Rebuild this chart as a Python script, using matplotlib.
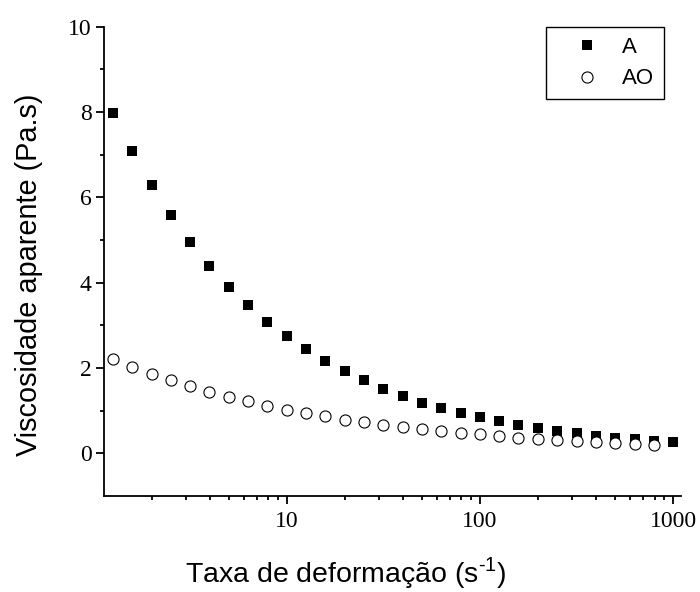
import numpy as np
import matplotlib.pyplot as plt
from matplotlib.ticker import FixedLocator, NullFormatter, FuncFormatter

plt.rcParams['mathtext.fontset'] = 'custom'
plt.rcParams['mathtext.rm'] = 'Liberation Sans'

# taxa de deformação (s-1)
taxa = [1.26, 1.58, 2.0, 2.51, 3.16, 3.98, 5.01, 6.31, 7.94, 10,
        12.6, 15.8, 20, 25.1, 31.6, 39.8, 50.1, 63.1, 79.4, 100,
        126, 158, 200, 251, 316, 398, 501, 631, 794, 1000]

# viscosidade aparente (Pa.s)
visc_A = [7.97, 7.08, 6.28, 5.58, 4.96, 4.40, 3.91, 3.48, 3.08, 2.74,
          2.44, 2.16, 1.92, 1.71, 1.51, 1.35, 1.19, 1.06, 0.94, 0.84,
          0.75, 0.66, 0.59, 0.52, 0.47, 0.41, 0.37, 0.34, 0.30, 0.27]
visc_AO = [2.21, 2.03, 1.87, 1.72, 1.57, 1.44, 1.33, 1.22, 1.12, 1.02,
           0.94, 0.87, 0.79, 0.73, 0.66, 0.62, 0.57, 0.52, 0.48, 0.45,
           0.41, 0.37, 0.34, 0.31, 0.29, 0.27, 0.24, 0.23, 0.20]

fig = plt.figure(figsize=(7, 5.92), dpi=100)
ax = fig.add_axes([0.1486, 0.1622, 0.8243, 0.7927])

ax.plot(taxa, visc_A, 's', color='black', markersize=7.2, markeredgewidth=0, label='A')
ax.plot(taxa[:len(visc_AO)], visc_AO, 'o', markerfacecolor='white', markeredgecolor='black',
        markersize=8, markeredgewidth=0.8, label='AO')

ax.set_xscale('log')
ax.set_xlim(1.135, 1096)
ax.set_ylim(-1, 10)

ax.spines['top'].set_visible(False)
ax.spines['right'].set_visible(False)
for s in ['left', 'bottom']:
    ax.spines[s].set_linewidth(1.3)

ax.yaxis.set_major_locator(FixedLocator([0, 2, 4, 6, 8, 10]))
ax.yaxis.set_minor_locator(FixedLocator([1, 3, 5, 7, 9]))
ax.xaxis.set_major_locator(FixedLocator([10, 100, 1000]))
ax.xaxis.set_major_formatter(FuncFormatter(lambda v, p: '%d' % v))
ax.xaxis.set_minor_formatter(NullFormatter())

ax.tick_params(which='major', direction='out', length=6, width=1.3)
ax.tick_params(which='minor', direction='out', length=3.2, width=1.3)
for lab in ax.get_xticklabels() + ax.get_yticklabels():
    lab.set_fontfamily('Liberation Serif')
    lab.set_fontsize(17)
ax.tick_params(axis='x', pad=5)
ax.tick_params(axis='y', pad=3)

fig.text(0.494, 0.017, 'Taxa de deformação (s$^{\\text{-1}}$)', ha='center', va='baseline',
         fontfamily='Liberation Sans', fontsize=20.5)
fig.text(0.041, 0.536, 'Viscosidade aparente (Pa.s)', ha='center', va='center', rotation=90,
         fontfamily='Liberation Sans', fontsize=20.8)

leg = ax.legend(loc='upper right', bbox_to_anchor=(0.9705, 1.0), borderaxespad=0,
                frameon=True, fancybox=False, edgecolor='black', framealpha=1,
                prop={'family': 'Liberation Sans', 'size': 16}, handletextpad=0.18,
                borderpad=0.45, labelspacing=0.48, handlelength=2.8)
leg.get_frame().set_linewidth(1.0)

fig.savefig('out.png', dpi=100)
